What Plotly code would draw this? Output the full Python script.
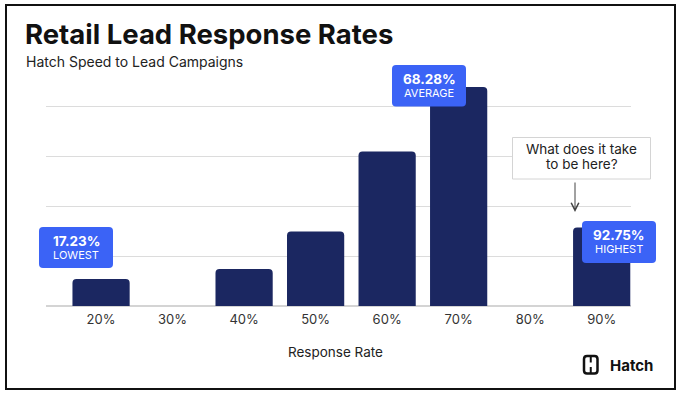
import plotly.graph_objects as go

# ---- data ----
categories = ["20%", "30%", "40%", "50%", "60%", "70%", "80%", "90%"]
values = [5.4, 0, 7.4, 14.9, 30.9, 43.8, 0, 15.7]
callout_values = ["17.23%", "68.28%", "92.75%"]
callout_labels = ["LOWEST", "AVERAGE", "HIGHEST"]

title_text = "Retail Lead Response Rates"
subtitle_text = "Hatch Speed to Lead Campaigns"
x_title = "Response Rate"
question_lines = ["What does it take", "to be here?"]
brand = "Hatch"

# ---- geometry helpers (pixel -> paper) ----
W, H = 680, 396
L, R, T, B = 46, 49, 81, 90
PW, PH = W - L - R, H - T - B


def px(x):
    return (x - L) / PW


def py(y):
    return (H - B - y) / PH


def rrect(x0, y0, x1, y1, r):
    pts = [
        ("M", x0 + r, y0), ("L", x1 - r, y0), ("Q", x1, y0, x1, y0 + r),
        ("L", x1, y1 - r), ("Q", x1, y1, x1 - r, y1), ("L", x0 + r, y1),
        ("Q", x0, y1, x0, y1 - r), ("L", x0, y0 + r), ("Q", x0, y0, x0 + r, y0),
    ]
    out = []
    for p in pts:
        if p[0] == "Q":
            out.append(f"Q{px(p[1]):.5f},{py(p[2]):.5f} {px(p[3]):.5f},{py(p[4]):.5f}")
        else:
            out.append(f"{p[0]}{px(p[1]):.5f},{py(p[2]):.5f}")
    return " ".join(out) + " Z"


FONT = "Inter, 'Noto Sans', sans-serif"
NAVY = "#1b2761"
BLUE = "#3b63f6"

fig = go.Figure(
    go.Bar(
        x=categories,
        y=values,
        width=0.8,
        marker=dict(color=NAVY, line=dict(width=0)),
        hoverinfo="skip",
    )
)

fig.update_layout(
    width=W,
    height=H,
    margin=dict(l=L, r=R, t=T, b=B, pad=0),
    paper_bgcolor="white",
    plot_bgcolor="white",
    showlegend=False,
    barcornerradius=4,
    font=dict(family=FONT, color="#333"),
)
fig.update_xaxes(
    type="category",
    range=[-0.77, 7.41],
    showgrid=False,
    showline=False,
    ticks="outside",
    ticklen=1,
    tickcolor="rgba(0,0,0,0)",
    tickfont=dict(size=13, color="#333", family=FONT),
    fixedrange=True,
)
fig.update_yaxes(
    range=[0, 45],
    dtick=10,
    showgrid=True,
    gridcolor="#dcdcdc",
    gridwidth=1,
    zeroline=True,
    zerolinecolor="#d4d4d4",
    zerolinewidth=1.5,
    showticklabels=False,
    showline=False,
    fixedrange=True,
)

shapes = []
annotations = []

# frame
shapes.append(dict(type="rect", xref="paper", yref="paper",
                   x0=px(6), y0=py(5), x1=px(675), y1=py(389),
                   line=dict(color="#111", width=2), fillcolor="rgba(0,0,0,0)",
                   layer="above"))

# title & subtitle
annotations.append(dict(text=f"<b>{title_text}</b>", xref="paper", yref="paper",
                        x=px(23), y=py(34), xanchor="left", yanchor="middle",
                        showarrow=False, font=dict(size=27.5, color="#111", family=FONT)))
annotations.append(dict(text=subtitle_text, xref="paper", yref="paper",
                        x=px(24), y=py(61), xanchor="left", yanchor="middle",
                        showarrow=False, font=dict(size=14, color="#222", family=FONT)))

# x axis title
annotations.append(dict(text=x_title, xref="paper", yref="paper",
                        x=px(335), y=py(352), xanchor="center", yanchor="middle",
                        showarrow=False, font=dict(size=13.5, color="#222", family=FONT)))

# blue callout boxes
boxes = [(39, 227, 113, 268), (392, 65, 466, 106.5), (582, 221, 656, 263)]
for (x0, y0, x1, y1), val, lab in zip(boxes, callout_values, callout_labels):
    shapes.append(dict(type="path", xref="paper", yref="paper", path=rrect(x0, y0, x1, y1, 4),
                       fillcolor=BLUE, line=dict(width=0), layer="above"))
    cx = (x0 + x1) / 2
    annotations.append(dict(text=f"<b>{val}</b>", xref="paper", yref="paper",
                            x=px(cx), y=py(y0 + 14), xanchor="center", yanchor="middle",
                            showarrow=False, font=dict(size=13.5, color="white", family=FONT)))
    annotations.append(dict(text=lab, xref="paper", yref="paper",
                            x=px(cx), y=py(y0 + 27.5), xanchor="center", yanchor="middle",
                            showarrow=False, font=dict(size=11, color="white", family=FONT)))

# question box
shapes.append(dict(type="rect", xref="paper", yref="paper",
                   x0=px(512.5), y0=py(137.5), x1=px(650.5), y1=py(179),
                   fillcolor="white", line=dict(color="#d4d4d4", width=1), layer="above"))
for i, line in enumerate(question_lines):
    annotations.append(dict(text=line, xref="paper", yref="paper",
                            x=px(581.5), y=py(148.5 + 15 * i), xanchor="center", yanchor="middle",
                            showarrow=False, font=dict(size=13.5, color="#222", family=FONT)))
annotations.append(dict(text="", xref="paper", yref="paper",
                        x=px(575), y=py(212), ax=0, ay=-31,
                        showarrow=True, arrowhead=5, arrowsize=1.5, arrowwidth=1,
                        arrowcolor="#444", standoff=0))

# Hatch logo
shapes.append(dict(type="path", xref="paper", yref="paper", path=rrect(584, 356, 597.5, 373.5, 3),
                   fillcolor="rgba(0,0,0,0)", line=dict(color="#111", width=2.5), layer="above"))
shapes.append(dict(type="line", xref="paper", yref="paper",
                   x0=px(590.75), y0=py(356), x1=px(590.75), y1=py(362.5),
                   line=dict(color="#111", width=2), layer="above"))
shapes.append(dict(type="line", xref="paper", yref="paper",
                   x0=px(590.75), y0=py(367), x1=px(590.75), y1=py(373.5),
                   line=dict(color="#111", width=2), layer="above"))
annotations.append(dict(text=f"<b>{brand}</b>", xref="paper", yref="paper",
                        x=px(608), y=py(365), xanchor="left", yanchor="middle",
                        showarrow=False, font=dict(size=15, color="#111", family=FONT)))

fig.update_layout(shapes=shapes, annotations=annotations)
fig.write_html(
    "out.html",
    config={"displayModeBar": False},
    post_script="document.body.style.margin='0';document.body.style.padding='0';",
)
